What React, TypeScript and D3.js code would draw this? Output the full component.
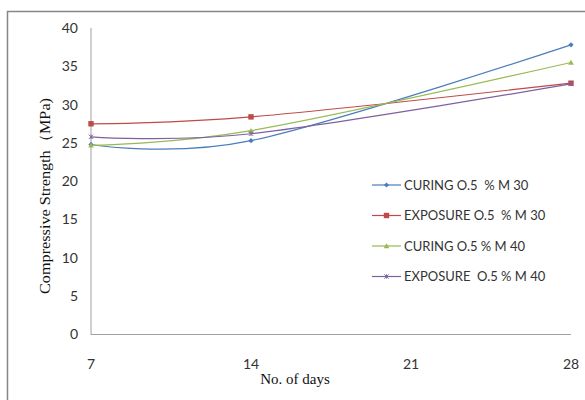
import React from "react";
import * as d3 from "d3";

const days = [7, 14, 28];
const xTicks = [7, 14, 21, 28];
const yTicks = [0, 5, 10, 15, 20, 25, 30, 35, 40];
const curingM30 = [24.8, 25.3, 37.8];
const exposureM30 = [27.5, 28.4, 32.8];
const curingM40 = [24.7, 26.6, 35.5];
const exposureM40 = [25.8, 26.2, 32.7];
const seriesNames = [
  "CURING O.5  % M 30",
  "EXPOSURE O.5  % M 30",
  "CURING O.5 % M 40",
  "EXPOSURE  O.5 % M 40",
];
const seriesColors = ["#4A7EBB", "#BE4B48", "#98B954", "#7D60A0"];
const seriesShapes = ["diamond", "square", "triangle", "x"];

const W = 585;
const H = 400;
const left = 91;
const right = 571;
const top = 28;
const bottom = 334.5;

function Marker({ shape, x, y, color }: { shape: string; x: number; y: number; color: string }) {
  if (shape === "diamond") {
    const s = 2.6;
    return <path d={`M${x},${y - s}L${x + s},${y}L${x},${y + s}L${x - s},${y}Z`} fill={color} />;
  }
  if (shape === "square") {
    const s = 2.7;
    return <rect x={x - s} y={y - s} width={2 * s} height={2 * s} fill={color} />;
  }
  if (shape === "triangle") {
    const s = 2.8;
    return <path d={`M${x},${y - s}L${x + s},${y + s * 0.8}L${x - s},${y + s * 0.8}Z`} fill={color} />;
  }
  const s = 2.2;
  return (
    <path
      d={`M${x - s},${y - s}L${x + s},${y + s}M${x - s},${y + s}L${x + s},${y - s}M${x},${y - s}L${x},${y + s}`}
      stroke={color}
      strokeWidth={0.9}
      fill="none"
    />
  );
}

export default function App() {
  const x = d3.scaleLinear().domain([7, 28]).range([left, right]);
  const y = d3.scaleLinear().domain([0, 40]).range([bottom, top]);
  const allSeries = [curingM30, exposureM30, curingM40, exposureM40];
  const line = d3
    .line<[number, number]>()
    .x((d) => x(d[0]))
    .y((d) => y(d[1]))
    .curve(d3.curveCatmullRom.alpha(0));

  const tickFont = "Lato, 'Open Sans', sans-serif";
  const serif = "'Liberation Serif', 'DejaVu Serif', serif";

  return (
    <svg
      width={W}
      height={H}
      style={{ position: "absolute", left: 0, top: 0 }}
      xmlns="http://www.w3.org/2000/svg"
    >
      <rect x={0} y={0} width={W} height={H} fill="#ffffff" />
      <rect x={7.5} y={11.5} width={W} height={H} fill="none" stroke="#868686" strokeWidth={1.5} />

      {/* axes */}
      <line x1={left} x2={left} y1={top} y2={bottom} stroke="#A0A0A0" strokeWidth={1} />
      <line x1={left} x2={right} y1={bottom} y2={bottom} stroke="#A0A0A0" strokeWidth={1} />

      {yTicks.map((t) => (
        <text
          key={"y" + t}
          x={78}
          y={y(t)}
          dy="0.35em"
          textAnchor="end"
          fontFamily={tickFont}
          fontSize={14}
          fill="#333"
        >
          {t}
        </text>
      ))}
      {xTicks.map((t) => (
        <text
          key={"x" + t}
          x={x(t)}
          y={369}
          textAnchor="middle"
          fontFamily={tickFont}
          fontSize={14}
          fill="#333"
        >
          {t}
        </text>
      ))}

      <text
        transform={`translate(50,196) rotate(-90)`}
        textAnchor="middle"
        fontFamily={serif}
        fontSize={15}
        fill="#111"
        textLength={196}
        lengthAdjust="spacingAndGlyphs"
      >
        Compressive Strength（MPa)
      </text>
      <text x={295} y={384} textAnchor="middle" fontFamily={serif} fontSize={15} fill="#111">
        No. of days
      </text>

      {allSeries.map((vals, i) => {
        const pts: [number, number][] = days.map((d, j) => [d, vals[j]]);
        return (
          <g key={"s" + i}>
            <path d={line(pts) || ""} fill="none" stroke={seriesColors[i]} strokeWidth={1.2} />
            {pts.map((p, j) => (
              <Marker key={j} shape={seriesShapes[i]} x={x(p[0])} y={y(p[1])} color={seriesColors[i]} />
            ))}
          </g>
        );
      })}

      {seriesNames.map((name, i) => {
        const ly = 185 + i * 30.5;
        return (
          <g key={"l" + i}>
            <line x1={372} x2={401} y1={ly} y2={ly} stroke={seriesColors[i]} strokeWidth={1.2} />
            <Marker shape={seriesShapes[i]} x={386.5} y={ly} color={seriesColors[i]} />
            <text
              x={404}
              y={ly}
              dy="0.35em"
              fontFamily={tickFont}
              fontSize={13}
              fill="#333"
              style={{ whiteSpace: "pre" }}
            >
              {name}
            </text>
          </g>
        );
      })}
    </svg>
  );
}
